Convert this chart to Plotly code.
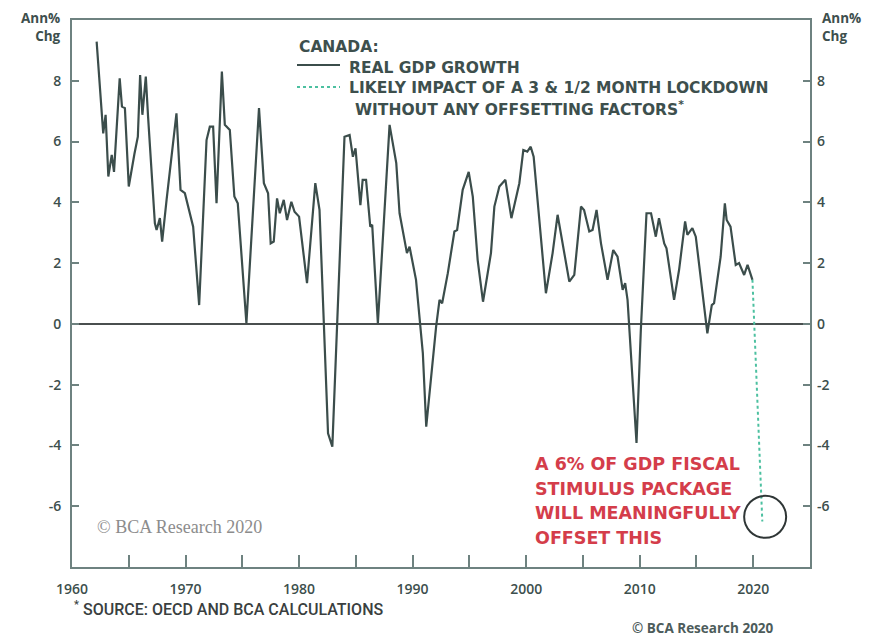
import plotly.graph_objects as go

# ---------------- data ----------------
years = [1962.17, 1962.6, 1962.75, 1962.96, 1963.2, 1963.5, 1963.7, 1964.2, 1964.4, 1964.66,
         1965.0, 1965.5, 1965.8, 1966.0, 1966.2, 1966.5, 1966.7, 1967.3, 1967.45, 1967.74,
         1967.94, 1968.33, 1969.2, 1969.56, 1969.94, 1970.67, 1971.2, 1971.85, 1972.14, 1972.43,
         1972.73, 1973.2, 1973.46, 1973.9, 1974.3, 1974.6, 1975.36, 1976.47, 1976.9, 1977.27,
         1977.5, 1977.77, 1978.06, 1978.3, 1978.65, 1978.94, 1979.32, 1979.6, 1980.0,
         1980.7, 1981.43, 1981.8, 1982.55, 1982.93, 1983.33, 1984.0, 1984.45, 1984.74, 1984.97,
         1985.4, 1985.6, 1985.9, 1986.27, 1986.44, 1986.94, 1987.97, 1988.56, 1988.85, 1989.5,
         1989.73, 1990.3, 1990.9, 1991.2, 1992.07, 1992.37, 1992.6, 1993.1, 1993.68, 1993.92,
         1994.41, 1994.94, 1995.3, 1995.73, 1996.2, 1996.9, 1997.2, 1997.64, 1998.17, 1998.7,
         1999.4, 1999.75, 2000.1, 2000.4, 2000.66, 2001.74, 2002.33, 2002.77,
         2003.8, 2004.24, 2004.83, 2005.1, 2005.56, 2005.85, 2006.2, 2006.59, 2007.17, 2007.67,
         2008.05, 2008.5, 2008.72, 2008.93, 2009.37, 2009.72, 2010.1, 2010.6, 2011.0, 2011.42,
         2011.7, 2012.16, 2012.36, 2013.03, 2013.47, 2014.0, 2014.2, 2014.64, 2014.94, 2015.96,
         2016.35, 2016.55, 2017.13, 2017.5, 2017.66, 2018.0, 2018.46, 2018.75, 2019.2, 2019.5,
         2019.93]
gdp = [9.29, 6.93, 6.27, 6.88, 4.85, 5.56, 5.0, 8.08, 7.15, 7.1,
       4.52, 5.6, 6.16, 8.19, 6.88, 8.14, 6.82, 3.31, 3.09, 3.48,
       2.71, 4.08, 6.93, 4.41, 4.3, 3.2, 0.62, 6.05, 6.49, 6.49,
       3.97, 8.3, 6.55, 6.38, 4.19, 3.97, 0.02, 7.1, 4.63, 4.3,
       2.65, 2.71, 4.13, 3.64, 4.08, 3.42, 4.02, 3.69, 3.53,
       1.34, 4.63, 3.75, -3.6, -4.04, -0.09, 6.16, 6.22, 5.5, 5.78,
       3.91, 4.74, 4.74, 3.2, 3.26, 0.02, 6.55, 5.29, 3.64, 2.33,
       2.54, 1.45, -0.96, -3.38, -0.09, 0.79, 0.68, 1.67, 3.04, 3.09,
       4.41, 5.0, 4.19, 2.1, 0.73, 2.33, 3.86, 4.52, 4.74, 3.48,
       4.63, 5.72, 5.67, 5.83, 5.5, 1.01, 2.33, 3.59,
       1.39, 1.61, 3.86, 3.75, 3.04, 3.09, 3.75, 2.65, 1.45, 2.43,
       2.21, 1.12, 1.34, 0.79, -1.84, -3.92, -0.2, 3.64, 3.64, 2.87,
       3.48, 2.65, 2.49, 0.79, 1.78, 3.37, 2.93, 3.15, 2.87, -0.31,
       0.62, 0.68, 2.21, 3.97, 3.42, 3.2, 1.94, 2.0, 1.61, 1.94,
       1.45]
proj_years = [2019.93, 2020.8]
proj_vals = [1.45, -6.5]

y_ticks = [8, 6, 4, 2, 0, -2, -4, -6]
y_tick_labels = ["8", "6", "4", "2", "0", "-2", "-4", "-6"]
x_ticks = [1960, 1970, 1980, 1990, 2000, 2010, 2020]
x_tick_labels = ["1960", "1970", "1980", "1990", "2000", "2010", "2020"]

note_lines = ["A 6% OF GDP FISCAL", "STIMULUS PACKAGE", "WILL MEANINGFULLY", "OFFSET THIS"]

# ---------------- styling ----------------
W, H = 881, 637
L, R, T, B = 72, 810, 20, 567
FRAME = "#6e8280"
LINE = "#3b4d4b"
TEXT = "#3d4f4d"
DASH = "#4cc0a0"
RED = "#d43d4a"
FONT = "Open Sans"
WIDE = "DejaVu Sans"

def px(x):
    return (x - L) / (R - L)

def py(y):
    return (B - y) / (B - T)

fig = go.Figure()
fig.add_trace(go.Scatter(x=years, y=gdp, mode="lines",
                         line=dict(color=LINE, width=2.2), showlegend=False, hoverinfo="skip"))
fig.add_trace(go.Scatter(x=proj_years, y=proj_vals, mode="lines",
                         line=dict(color=DASH, width=2, dash="3px,3px"), showlegend=False,
                         hoverinfo="skip"))
# invisible trace for the right-hand axis
fig.add_trace(go.Scatter(x=[years[0]], y=[gdp[0]], yaxis="y2", mode="lines",
                         line=dict(width=0), showlegend=False, hoverinfo="skip"))

tickfont = dict(family=FONT, size=14, color=TEXT, weight=600)

fig.update_layout(
    width=W, height=H,
    margin=dict(l=L, r=W - R, t=T, b=H - B),
    paper_bgcolor="white", plot_bgcolor="white",
    xaxis=dict(range=[1960, 2025], showgrid=False, zeroline=False,
               showline=True, mirror=True, linecolor=FRAME, linewidth=2,
               tickvals=x_ticks, ticktext=x_tick_labels, ticks="inside", ticklen=12,
               tickcolor=FRAME, tickwidth=2, tickfont=tickfont, ticklabelstandoff=8,
               minor=dict(ticks="inside", ticklen=12, tickcolor=FRAME, tickwidth=2,
                          tick0=1960, dtick=5)),
    yaxis=dict(range=[-8, 10], showgrid=False, zeroline=True, zerolinecolor="#4a4f4f",
               zerolinewidth=2, showline=True, mirror=True, linecolor=FRAME, linewidth=2,
               tickvals=y_ticks, ticktext=y_tick_labels, ticks="inside", ticklen=7,
               tickcolor=FRAME, tickwidth=2, tickfont=tickfont, ticklabelstandoff=6),
    yaxis2=dict(range=[-8, 10], overlaying="y", side="right", showgrid=False, zeroline=False,
                showline=False, tickvals=y_ticks, ticktext=y_tick_labels, ticks="inside",
                ticklen=7, tickcolor=FRAME, tickwidth=2, tickfont=tickfont,
                ticklabelstandoff=6),
)

ann = []
hdr = dict(family=FONT, size=13.5, color=TEXT, weight=700)
# axis headers
ann.append(dict(x=px(63), y=py(27), xanchor="right", yanchor="middle", text="Ann%<br>Chg",
                font=hdr, align="right"))
ann.append(dict(x=px(820), y=py(27), xanchor="left", yanchor="middle", text="Ann%<br>Chg",
                font=hdr, align="left"))
# legend text
leg = dict(family=WIDE, size=15.5, color=TEXT, weight=700)
ann.append(dict(x=px(297), y=py(47), xanchor="left", yanchor="middle", text="CANADA:", font=leg))
ann.append(dict(x=px(347), y=py(68), xanchor="left", yanchor="middle", text="REAL GDP GROWTH", font=leg))
ann.append(dict(x=px(347), y=py(88), xanchor="left", yanchor="middle",
                text="LIKELY IMPACT OF A 3 &amp; 1/2 MONTH LOCKDOWN", font=leg))
ann.append(dict(x=px(353), y=py(108), xanchor="left", yanchor="middle",
                text="WITHOUT ANY OFFSETTING FACTORS<sup>*</sup>", font=leg))
# red note
for i, t in enumerate(note_lines):
    ann.append(dict(x=px(533), y=py(464 + i * 24.5), xanchor="left", yanchor="middle", text=t,
                    font=dict(family=WIDE, size=17.5, color=RED, weight=700)))
# watermark inside
ann.append(dict(x=px(95), y=py(527), xanchor="left", yanchor="middle", text="© BCA Research 2020",
                font=dict(family="Liberation Serif", size=18, color="#8c8c8c")))
# footnotes
ann.append(dict(x=px(72), y=py(608), xanchor="left", yanchor="middle",
                text="<sup>*</sup> SOURCE: OECD AND BCA CALCULATIONS",
                font=dict(family="Roboto", size=16, color="#3a3f3f", weight=500)))
ann.append(dict(x=px(776), y=py(628), xanchor="right", yanchor="middle",
                text="© BCA Research 2020",
                font=dict(family=FONT, size=13.5, color="#4d5c5b", weight=700)))
for a in ann:
    a.update(xref="paper", yref="paper", showarrow=False)
fig.update_layout(annotations=ann)

shapes = [
    dict(type="line", xref="paper", yref="paper", x0=px(297), x1=px(340), y0=py(65), y1=py(65),
         line=dict(color=LINE, width=2)),
    dict(type="line", xref="paper", yref="paper", x0=px(297), x1=px(340), y0=py(87), y1=py(87),
         line=dict(color=DASH, width=2, dash="3px,3px")),
    dict(type="circle", xref="x", yref="y", xsizemode="pixel", ysizemode="pixel",
         xanchor=proj_years[-1] + 0.25, yanchor=proj_vals[-1] + 0.15,
         x0=-21, x1=21, y0=-21, y1=21, line=dict(color="#2f3636", width=2)),
]
fig.update_layout(shapes=shapes)

fig.write_html("out.html")
